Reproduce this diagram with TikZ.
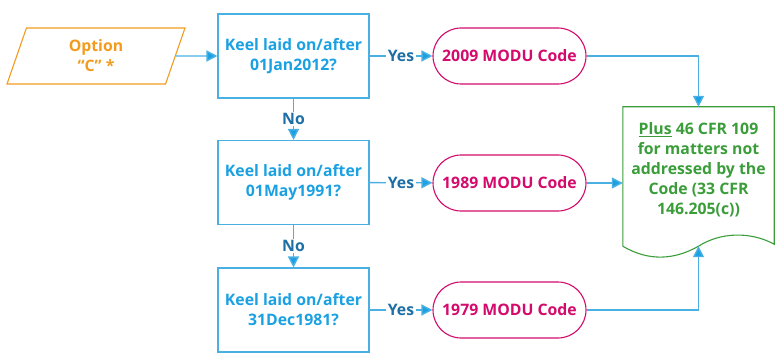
\documentclass[tikz,border=0pt]{standalone}
\usepackage{fontspec}
\setmainfont{Open Sans}
\usepackage{xcolor}
\usepackage{tikz}
\usetikzlibrary{positioning,shapes.geometric,arrows.meta}

\definecolor{qblue}{HTML}{1BA1E2}
\definecolor{lblue}{HTML}{4AB0E4}
\definecolor{dblue}{HTML}{1E6FA5}
\definecolor{optorange}{HTML}{F29B1E}
\definecolor{codepink}{HTML}{D40A6C}
\definecolor{plusgreen}{HTML}{3A9D3A}

\tikzset{
  boxfont/.style = {font = \bfseries\fontsize{15.8}{20}\selectfont},
  question/.style = {draw = lblue, text = qblue, line width = 1.1pt, rectangle, align = center,
    minimum width = 151pt, minimum height = 84pt, boxfont},
  code/.style = {draw = codepink, text = codepink, line width = 1.1pt, rectangle, rounded corners = 28pt,
    minimum width = 153pt, minimum height = 56pt, boxfont},
  arr/.style = {draw = lblue, line width = 1.4pt, -{Triangle[length = 11pt, width = 11pt, fill = qblue]}},
  answer/.style = {text = dblue, fill = white, inner sep = 1.5pt, boxfont}
}

\begin{document}
\begin{tikzpicture}[x = 1pt, y = -1pt]
  \useasboundingbox (0, 0) rectangle (777, 361);

  \node[draw = optorange, text = optorange, line width = 1.1pt, trapezium, trapezium left angle = 63.4,
    trapezium right angle = 116.6, trapezium stretches body, minimum width = 178pt,
    minimum height = 56pt, align = center, boxfont]
    (opt) at (96, 56){
    Option\\
    “C" *
  };

  \node[question] (q1) at (293.5, 56){
    Keel laid on/after\\
    01Jan2012?
  };

  \node[question] (q2) at (293.5, 182.5){
    Keel laid on/after\\
    01May1991?
  };

  \node[question] (q3) at (293.5, 310){
    Keel laid on/after\\
    31Dec1981?
  };

  \node[code] (code1) at (509.5, 56){
    2009 MODU Code
  };

  \node[code] (code2) at (509.5, 183){
    1989 MODU Code
  };

  \node[code] (code3) at (509.5, 310){
    1979 MODU Code
  };

  \node[minimum width = 151pt, minimum height = 139pt, inner sep = 0pt] (plus) at (698.5, 176.5){};

  \node[text = plusgreen, align = center, boxfont]
    (plustext) at ([yshift = 6.5pt]plus.center){
    \underline{Plus} 46 CFR 109\\
    for matters not\\
    addressed by the\\
    Code (33 CFR\\
    146.205(c))
  };

  % document outline with wavy bottom
  \draw[plusgreen, line width = 1.1pt] (plus.south west) -- (plus.north west) -- (plus.north east)
    -- ([yshift = 2pt]plus.south east) .. controls +(-24pt, 13pt) and +(22pt, 14pt) .. (plus.south)
    .. controls +(-23pt, -13pt) and +(27pt, -16pt) .. (plus.south west) -- cycle;

  \draw[arr] (opt) -- (q1);

  \draw[arr] (q1) -- node[answer]{Yes} (code1);
  \draw[arr] (q1) -- node[answer]{No} (q2);
  \draw[arr] (q2) -- node[answer]{Yes} (code2);
  \draw[arr] (q2) -- node[answer]{No} (q3);
  \draw[arr] (q3) -- node[answer]{Yes} (code3);

  \draw[arr] (code1) -| (plus.north);
  \draw[arr] (code2.east) -- (code2.east -| plus.west);
  \draw[arr] (code3) -| (plus.south);
\end{tikzpicture}
\end{document}
